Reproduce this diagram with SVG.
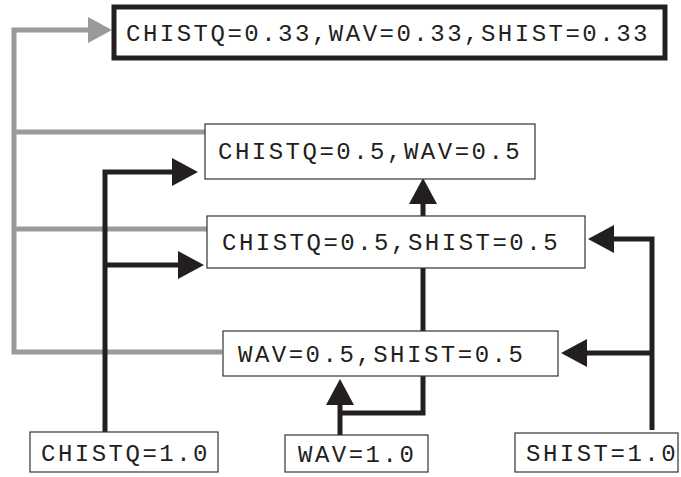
<svg xmlns="http://www.w3.org/2000/svg" width="681" height="477" viewBox="0 0 681 477">
  <style>
    .box { fill: #ffffff; stroke: #333333; stroke-width: 1.2; }
    .box-main { fill: #ffffff; stroke: #231f20; stroke-width: 5; }
    .label { font-family: "Liberation Mono", "DejaVu Sans Mono", monospace; font-size: 24px; letter-spacing: 2.5px; fill: #231f20; }
    .link { fill: none; stroke: #231f20; stroke-width: 5; }
    .link-grey { fill: none; stroke: #9a9a9a; stroke-width: 5; }
  </style>
  <defs>
    <marker id="arrow" markerUnits="userSpaceOnUse" markerWidth="27" markerHeight="30" refX="0" refY="15" orient="auto">
      <path d="M0,1 L26,15 L0,29 z" fill="#231f20"/>
    </marker>
    <marker id="arrow-grey" markerUnits="userSpaceOnUse" markerWidth="25" markerHeight="28" refX="0" refY="14" orient="auto">
      <path d="M0,1 L24,14 L0,27 z" fill="#9a9a9a"/>
    </marker>
  </defs>

  <g id="connectors">
    <!-- grey feedback lines into the combined result -->
    <path class="link-grey" d="M222,352 H14 V30 H88" marker-end="url(#arrow-grey)"/>
    <path class="link-grey" d="M205,132 H14"/>
    <path class="link-grey" d="M208,229 H14"/>
    <!-- CHISTQ=1.0 feeds both CHISTQ pairs -->
    <path class="link" d="M105,432 V172 H172" marker-end="url(#arrow)"/>
    <path class="link" d="M105,265 H178" marker-end="url(#arrow)"/>
    <!-- WAV=1.0 into WAV/SHIST pair -->
    <path class="link" d="M340,435 V405" marker-end="url(#arrow)"/>
    <path class="link" d="M423,376 V413 H340"/>
    <!-- middle column upwards -->
    <path class="link" d="M423,331 V268"/>
    <path class="link" d="M423,216 V204" marker-end="url(#arrow)"/>
    <!-- SHIST=1.0 feeds both SHIST pairs -->
    <path class="link" d="M652,430 V239 H614" marker-end="url(#arrow)"/>
    <path class="link" d="M652,353 H587" marker-end="url(#arrow)"/>
  </g>

  <g id="node-all">
    <rect class="box-main" x="114" y="7" width="551" height="51"/>
    <text class="label" x="126" y="41">CHISTQ=0.33,WAV=0.33,SHIST=0.33</text>
  </g>
  <g id="node-chistq-wav">
    <rect class="box" x="205" y="124" width="330" height="55"/>
    <text class="label" x="218" y="159">CHISTQ=0.5,WAV=0.5</text>
  </g>
  <g id="node-chistq-shist">
    <rect class="box" x="207" y="216" width="378" height="52"/>
    <text class="label" x="222" y="250">CHISTQ=0.5,SHIST=0.5</text>
  </g>
  <g id="node-wav-shist">
    <rect class="box" x="223" y="331" width="335" height="45"/>
    <text class="label" x="238" y="362">WAV=0.5,SHIST=0.5</text>
  </g>
  <g id="node-chistq">
    <rect class="box" x="30" y="432" width="188" height="40"/>
    <text class="label" x="41" y="461">CHISTQ=1.0</text>
  </g>
  <g id="node-wav">
    <rect class="box" x="285" y="435" width="143" height="37"/>
    <text class="label" x="298" y="462">WAV=1.0</text>
  </g>
  <g id="node-shist">
    <rect class="box" x="515" y="433" width="163" height="39"/>
    <text class="label" x="526" y="461">SHIST=1.0</text>
  </g>
</svg>
